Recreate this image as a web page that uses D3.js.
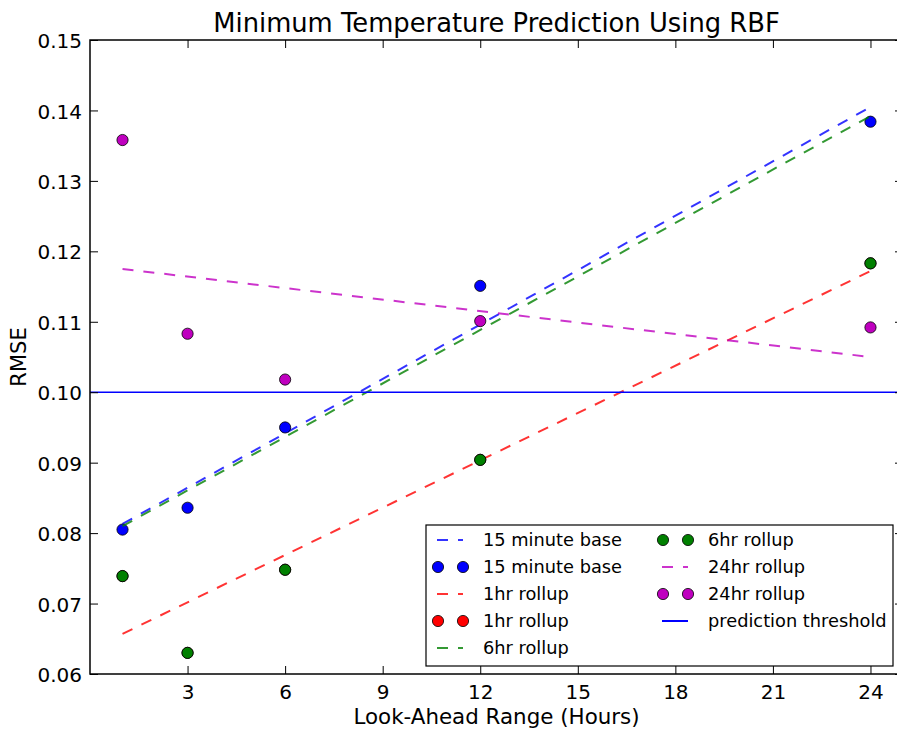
<!DOCTYPE html>
<html>
<head>
<meta charset="utf-8">
<script src="https://cdn.jsdelivr.net/npm/d3@7"></script>
<style>
  html, body { margin: 0; padding: 0; background: #fff; }
  svg { display: block; font-family: "DejaVu Sans", sans-serif; }
</style>
</head>
<body>
<svg id="chart" width="897" height="729"></svg>
<script>
// ---- data ----
const lookAhead   = [1, 3, 6, 12, 24];
const base15      = [0.0805, 0.0836, 0.0950, 0.1151, 0.1384];
const rollup1hr   = [0.0739, 0.0630, 0.0748, 0.0904, 0.1183];
const rollup6hr   = [0.0739, 0.0630, 0.0748, 0.0904, 0.1183];
const rollup24hr  = [0.1358, 0.1083, 0.1018, 0.1101, 0.1092];
const trendX      = [1, 24];
const trend15     = [0.0813, 0.1405];
const trend1hr    = [0.0657, 0.1172];
const trend6hr    = [0.0810, 0.1392];
const trend24hr   = [0.1175, 0.1050];
const threshold   = 0.10;
const xTicks      = [3, 6, 9, 12, 15, 18, 21, 24];
const yTicks      = [0.06, 0.07, 0.08, 0.09, 0.10, 0.11, 0.12, 0.13, 0.14, 0.15];
const xDomain     = [0, 25];
const yDomain     = [0.06, 0.15];

const titleText  = "Minimum Temperature Prediction Using RBF";
const xLabelText = "Look-Ahead Range (Hours)";
const yLabelText = "RMSE";

// ---- layout ----
const L = 90, R = 903, T = 40, B = 674;
const svg = d3.select("#chart");
const x = d3.scaleLinear().domain(xDomain).range([L, R]);
const y = d3.scaleLinear().domain(yDomain).range([B, T]);

const colors = { b: "#0000ff", r: "#ff0000", g: "#008000", m: "#bf00bf" };
const dash = "11,10";

const series = [
  { name: "15 minute base", color: colors.b, trend: trend15,   pts: base15 },
  { name: "1hr rollup",     color: colors.r, trend: trend1hr,  pts: rollup1hr },
  { name: "6hr rollup",     color: colors.g, trend: trend6hr,  pts: rollup6hr },
  { name: "24hr rollup",    color: colors.m, trend: trend24hr, pts: rollup24hr }
];

const line = d3.line().x(d => x(d[0])).y(d => y(d[1]));

const plot = svg.append("g");
series.forEach(s => {
  plot.append("path")
    .datum(trendX.map((xv, i) => [xv, s.trend[i]]))
    .attr("d", line)
    .attr("fill", "none")
    .attr("stroke", s.color)
    .attr("stroke-opacity", 0.8)
    .attr("stroke-width", 2)
    .attr("stroke-dasharray", dash);
  plot.selectAll(null)
    .data(lookAhead.map((xv, i) => [xv, s.pts[i]]))
    .enter().append("circle")
    .attr("cx", d => x(d[0]))
    .attr("cy", d => y(d[1]))
    .attr("r", 5.6)
    .attr("fill", s.color)
    .attr("stroke", "#000")
    .attr("stroke-width", 0.8);
});

plot.append("line")
  .attr("x1", x(xDomain[0])).attr("x2", x(xDomain[1]))
  .attr("y1", y(threshold)).attr("y2", y(threshold))
  .attr("stroke", colors.b).attr("stroke-width", 1.6);

// ---- axes (inward ticks on all four sides) ----
const tickLen = 8;
const fmt = d3.format(".2f");

const axB = svg.append("g").attr("transform", `translate(0,${B})`)
  .call(d3.axisBottom(x).tickValues(xTicks).tickSize(-tickLen).tickPadding(10.5));
const axT = svg.append("g").attr("transform", `translate(0,${T})`)
  .call(d3.axisTop(x).tickValues(xTicks).tickSize(-tickLen).tickFormat(""));
const axL = svg.append("g").attr("transform", `translate(${L},0)`)
  .call(d3.axisLeft(y).tickValues(yTicks).tickSize(-tickLen).tickFormat(fmt).tickPadding(8));
const axR = svg.append("g").attr("transform", `translate(${R},0)`)
  .call(d3.axisRight(y).tickValues(yTicks).tickSize(-tickLen).tickFormat(""));

[axB, axT, axL, axR].forEach(a => {
  a.select(".domain").remove();
  a.selectAll(".tick line").attr("stroke", "#000").attr("stroke-width", 1);
  a.selectAll(".tick text")
    .attr("font-family", "DejaVu Sans")
    .attr("font-size", 20)
    .attr("fill", "#000");
});
axL.selectAll(".tick text").attr("dy", "0.38em");
axB.selectAll(".tick text").attr("dy", "0.71em");

svg.append("rect")
  .attr("x", L).attr("y", T).attr("width", R - L).attr("height", B - T)
  .attr("fill", "none").attr("stroke", "#000").attr("stroke-width", 1.5);

// ---- titles ----
svg.append("text")
  .attr("x", (L + R) / 2).attr("y", 32)
  .attr("text-anchor", "middle").attr("font-size", 25.8)
  .text(titleText);
svg.append("text")
  .attr("x", (L + R) / 2).attr("y", 724)
  .attr("text-anchor", "middle").attr("font-size", 21.4)
  .text(xLabelText);
svg.append("text")
  .attr("transform", `translate(26,${(T + B) / 2}) rotate(-90)`)
  .attr("text-anchor", "middle").attr("font-size", 21)
  .text(yLabelText);

// ---- legend ----
const legendItems = [];
series.forEach(s => {
  legendItems.push({ label: s.name, type: "line", color: s.color });
  legendItems.push({ label: s.name, type: "marker", color: s.color });
});
legendItems.push({ label: "prediction threshold", type: "solid", color: colors.b });

const lg = svg.append("g");
lg.append("rect")
  .attr("x", 426).attr("y", 525).attr("width", 467).attr("height", 141)
  .attr("fill", "#fff").attr("stroke", "#000").attr("stroke-width", 1.2);

const rowsPerCol = 5, rowH = 27, row0 = 540;
const colX = [437, 662];
legendItems.forEach((it, i) => {
  const col = Math.floor(i / rowsPerCol), row = i % rowsPerCol;
  const hx = colX[col], cy = row0 + row * rowH;
  if (it.type === "line") {
    lg.append("line").attr("x1", hx).attr("x2", hx + 26).attr("y1", cy).attr("y2", cy)
      .attr("stroke", it.color).attr("stroke-opacity", 0.8).attr("stroke-width", 2)
      .attr("stroke-dasharray", dash);
  } else if (it.type === "solid") {
    lg.append("line").attr("x1", hx).attr("x2", hx + 26).attr("y1", cy).attr("y2", cy)
      .attr("stroke", it.color).attr("stroke-width", 2);
  } else {
    [hx + 1, hx + 26].forEach(mx => {
      lg.append("circle").attr("cx", mx).attr("cy", cy).attr("r", 5.6)
        .attr("fill", it.color).attr("stroke", "#000").attr("stroke-width", 0.8);
    });
  }
  lg.append("text")
    .attr("x", hx + 46).attr("y", cy).attr("dy", "0.36em")
    .attr("font-size", 17.8).attr("fill", "#000")
    .text(it.label);
});
</script>
</body>
</html>
